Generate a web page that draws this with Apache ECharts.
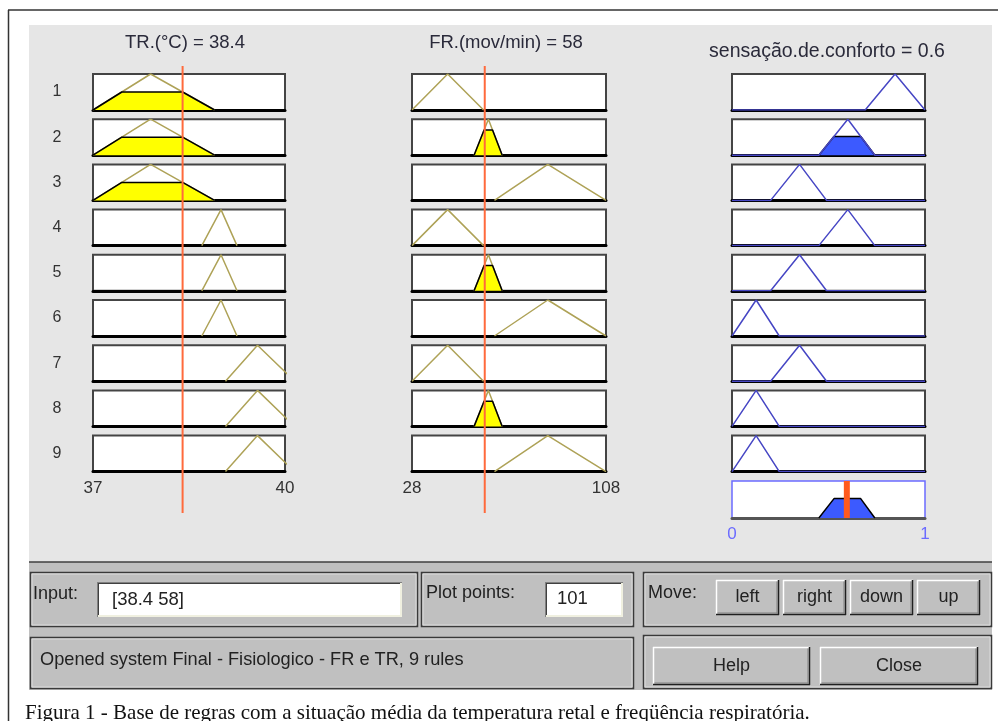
<!DOCTYPE html>
<html>
<head>
<meta charset="utf-8">
<script src="https://cdn.jsdelivr.net/npm/echarts@6/dist/echarts.min.js"></script>
<style>
  html, body { margin: 0; padding: 0; background: #fff; }
  #main { width: 998px; height: 721px; }
</style>
</head>
<body>
<div id="main"></div>
<script>
// 变量名与输入值
const varNames = ['TR.(°C)', 'FR.(mov/min)', 'sensação.de.conforto'];
const inputValues = [38.4, 58];
const outputValue = 0.6;       // 标题里显示的结果
const outputCentroid = 0.595;  // 橙色粗线位置
const ranges = [[37, 40], [28, 108], [0, 1]];

// 隶属函数 (三角形 a, b, c)
const trMFs = [[37.0, 37.9, 38.9], [38.7, 39.0, 39.25], [39.07, 39.57, 40.15]];
const frMFs = [[28, 42.7, 57.5], [53.6, 59.5, 65.2], [62, 84, 108]];
const outMFs = [[0, 0.125, 0.245], [0.2, 0.35, 0.49], [0.45, 0.6, 0.74], [0.69, 0.845, 1.0]];

// 9 条规则
const rowLabels = ['1', '2', '3', '4', '5', '6', '7', '8', '9'];
const ruleTR = [0, 0, 0, 1, 1, 1, 2, 2, 2];
const ruleFR = [0, 1, 2, 0, 1, 2, 0, 1, 2];
const ruleOut = [3, 2, 1, 2, 1, 0, 1, 0, 0];
const trDegree = [0.5, 0.5, 0.5, 0, 0, 0, 0, 0, 0];
const frDegree = [0, 0.7, 0, 0, 0.7, 0, 0, 0.7, 0];
const ruleStrength = [0, 0.52, 0, 0, 0, 0, 0, 0, 0];
const aggLevel = 0.53;

// 底部面板文字
const inputText = '[38.4 58]';
const plotPoints = '101';
const moveButtons = ['left', 'right', 'down', 'up'];
const statusText = 'Opened system Final - Fisiologico - FR e TR, 9 rules';
const captionText = 'Figura 1 - Base de regras com a situação média da temperatura retal e freqüência respiratória.';

// 布局
const colLeft = [93, 412, 732];
const colWidth = [192, 194, 193];
const rowTop = 74;
const rowStep = 45.2;
const rowH = 36;

const OLIVE = '#aea257';
const BLUE_LINE = '#4646c4';
const BLUE_FILL = '#3c5aff';
const ORANGE = '#ff6a3c';
const UI_FONT = 'Liberation Sans, Arial, sans-serif';

const chart = echarts.init(document.getElementById('main'));

const grids = [];
const xAxes = [];
const yAxes = [];
const series = [];

function tri(mf) {
  return [[mf[0], 0], [mf[1], 1], [mf[2], 0]];
}

function clipTri(mf, d) {
  const [a, b, c] = mf;
  return [[a, 0], [a + (b - a) * d, d], [c - (c - b) * d, d], [c, 0]];
}

function lineSeries(gi, data, color, width, extra) {
  return Object.assign({
    type: 'line',
    xAxisIndex: gi,
    yAxisIndex: gi,
    data: data,
    symbol: 'none',
    silent: true,
    animation: false,
    lineStyle: { color: color, width: width }
  }, extra || {});
}

function addGrid(left, top, width, height, c, gridOpt, xOpt) {
  const gi = grids.length;
  grids.push(Object.assign({ left: left, top: top, width: width, height: height }, gridOpt));
  xAxes.push(Object.assign({
    gridIndex: gi,
    type: 'value',
    min: ranges[c][0],
    max: ranges[c][1],
    axisTick: { show: false },
    splitLine: { show: false },
    axisLabel: { show: false }
  }, xOpt));
  yAxes.push({ gridIndex: gi, type: 'value', min: 0, max: 1, show: false });
  return gi;
}

// 规则行
for (let r = 0; r < 9; r++) {
  const top = rowTop + r * rowStep;
  for (let c = 0; c < 3; c++) {
    let label = { show: false };
    if (r === 8 && c < 2) {
      label = {
        show: true,
        customValues: ranges[c],
        margin: 8,
        fontSize: 17,
        fontFamily: UI_FONT,
        color: '#333'
      };
    }
    addGrid(colLeft[c], top, colWidth[c], rowH, c,
      { show: true, backgroundColor: '#fff', borderColor: '#444', borderWidth: 2 },
      { axisLine: { show: true, onZero: false, lineStyle: { color: '#000', width: 3 } }, axisLabel: label });
  }

  // TR
  const g0 = r * 3;
  series.push(lineSeries(g0, tri(trMFs[ruleTR[r]]), OLIVE, 1.5));
  if (trDegree[r] > 0) {
    series.push(lineSeries(g0, clipTri(trMFs[ruleTR[r]], trDegree[r]), '#000', 1.5,
      { areaStyle: { color: '#ffff00', opacity: 1 } }));
  }

  // FR
  const g1 = r * 3 + 1;
  series.push(lineSeries(g1, tri(frMFs[ruleFR[r]]), OLIVE, 1.5));
  if (frDegree[r] > 0) {
    series.push(lineSeries(g1, clipTri(frMFs[ruleFR[r]], frDegree[r]), '#000', 1.5,
      { areaStyle: { color: '#ffff00', opacity: 1 } }));
  }

  // 输出
  const g2 = r * 3 + 2;
  const om = outMFs[ruleOut[r]];
  if (ruleStrength[r] > 0) {
    series.push(lineSeries(g2, clipTri(om, ruleStrength[r]), '#000', 1.5,
      { areaStyle: { color: BLUE_FILL, opacity: 1 } }));
  }
  series.push(lineSeries(g2, [[0, 0], [om[0], 0], [om[1], 1], [om[2], 0], [1, 0]], BLUE_LINE, 1.5));
}

// 聚合输出
const gAgg = addGrid(colLeft[2], 481, colWidth[2], 37, 2,
  { show: true, backgroundColor: '#fff', borderColor: '#6b6bff', borderWidth: 1.5 },
  {
    axisLine: { show: true, onZero: false, lineStyle: { color: '#555', width: 3 } },
    axisLabel: { show: true, customValues: [0, 1], margin: 8, fontSize: 17, fontFamily: UI_FONT, color: '#6b6bff' }
  });
series.push(lineSeries(gAgg, clipTri(outMFs[2], aggLevel), '#000', 1.5,
  { areaStyle: { color: BLUE_FILL, opacity: 1 } }));
series.push(lineSeries(gAgg, [[outputCentroid, 0], [outputCentroid, 1]], '#ff5a1e', 6, { z: 5 }));

// 输入值竖线
for (let c = 0; c < 2; c++) {
  const gi = addGrid(colLeft[c], 66, colWidth[c], 447, c, { show: false }, { show: false });
  series.push(lineSeries(gi, [[inputValues[c], 0], [inputValues[c], 1]], ORANGE, 2, { z: 5 }));
}

// ---- graphic 元素 ----
const graphics = [];

function gLine(x1, y1, x2, y2, color, w) {
  graphics.push({ type: 'line', silent: true, shape: { x1: x1, y1: y1, x2: x2, y2: y2 }, style: { stroke: color, lineWidth: w } });
}
function gRect(x, y, w, h, fill, stroke, lw, z) {
  graphics.push({
    type: 'rect', silent: true, z: z || 0,
    shape: { x: x, y: y, width: w, height: h },
    style: { fill: fill || 'none', stroke: stroke || 'none', lineWidth: lw || 0 }
  });
}
function gText(x, y, text, size, align, color, font) {
  graphics.push({
    type: 'text', silent: true, x: x, y: y,
    style: {
      text: text, fontSize: size, fontFamily: font || UI_FONT,
      fill: color || '#222', align: align || 'left', verticalAlign: 'middle'
    }
  });
}
function groupBox(x, y, w, h) {
  gRect(x + 0.5, y + 0.5, w, h, null, '#3a3a3a', 1.5);
  gRect(x + 2, y + 2, w - 3, h - 3, null, '#dcdcdc', 1);
}
function textField(x, y, w, h) {
  gRect(x, y, w, h, '#fff');
  gLine(x, y + h - 1, x + w, y + h - 1, '#f0f0e0', 2);
  gLine(x + w - 1, y, x + w - 1, y + h, '#f0f0e0', 2);
  gLine(x, y + 0.5, x + w, y + 0.5, '#808080', 1);
  gLine(x + 0.5, y, x + 0.5, y + h, '#808080', 1);
  gLine(x + 1, y + 1.5, x + w - 2, y + 1.5, '#404040', 1);
  gLine(x + 1.5, y + 1, x + 1.5, y + h - 2, '#404040', 1);
}
function button(x, y, w, h, label) {
  gRect(x, y, w, h, '#c0c0c0');
  gLine(x, y + 0.5, x + w, y + 0.5, '#fff', 1.5);
  gLine(x + 0.5, y, x + 0.5, y + h, '#fff', 1.5);
  gLine(x, y + h - 0.5, x + w, y + h - 0.5, '#202020', 1.5);
  gLine(x + w - 0.5, y, x + w - 0.5, y + h, '#202020', 1.5);
  gLine(x + 1.5, y + h - 2, x + w - 1.5, y + h - 2, '#808080', 1);
  gLine(x + w - 2, y + 1.5, x + w - 2, y + h - 1.5, '#808080', 1);
  gText(x + w / 2, y + h / 2, label, 18, 'center', '#222');
}

// 外框与背景
gRect(29, 25, 963, 537, '#e6e6e6', null, 0, -10);
gRect(29, 562, 963, 128, '#c0c0c0', null, 0, -10);
gLine(29, 562, 992, 562, '#404040', 1.5);
gLine(8, 10, 998, 10, '#333', 1.5);
gLine(8.5, 10, 8.5, 721, '#333', 1.5);

// 标题
gText(185, 43, varNames[0] + ' = ' + inputValues[0], 18.5, 'center', '#2a2a3a');
gText(506, 43, varNames[1] + ' = ' + inputValues[1], 18.5, 'center', '#2a2a3a');
gText(827, 52, varNames[2] + ' = ' + outputValue, 19.5, 'center', '#2a2a3a');

// 行号
rowLabels.forEach(function (lab, r) {
  gText(57, rowTop + r * rowStep + rowH / 2, lab, 16, 'center', '#333');
});

// 底部控件
groupBox(30, 572, 387, 54);
gText(33, 594, 'Input:', 18);
textField(97, 582, 305, 35);
gText(112, 600, inputText, 18.5);

groupBox(421, 572, 212, 54);
gText(426, 593, 'Plot points:', 18);
textField(545, 582, 78, 35);
gText(557, 599, plotPoints, 18.5);

groupBox(643, 572, 348, 54);
gText(648, 593, 'Move:', 18);
const btnX = [716, 783, 850, 917];
moveButtons.forEach(function (lab, i) {
  button(btnX[i], 580, 63, 35, lab);
});

groupBox(30, 637, 603, 51);
gText(40, 660, statusText, 18.2);

groupBox(643, 635, 348, 53);
button(653, 647, 157, 38, 'Help');
button(820, 647, 158, 38, 'Close');

// 图注
gText(25, 713, captionText, 21, 'left', '#111', 'Liberation Serif, Times New Roman, serif');

chart.setOption({
  animation: false,
  grid: grids,
  xAxis: xAxes,
  yAxis: yAxes,
  series: series,
  graphic: graphics
});
</script>
</body>
</html>
